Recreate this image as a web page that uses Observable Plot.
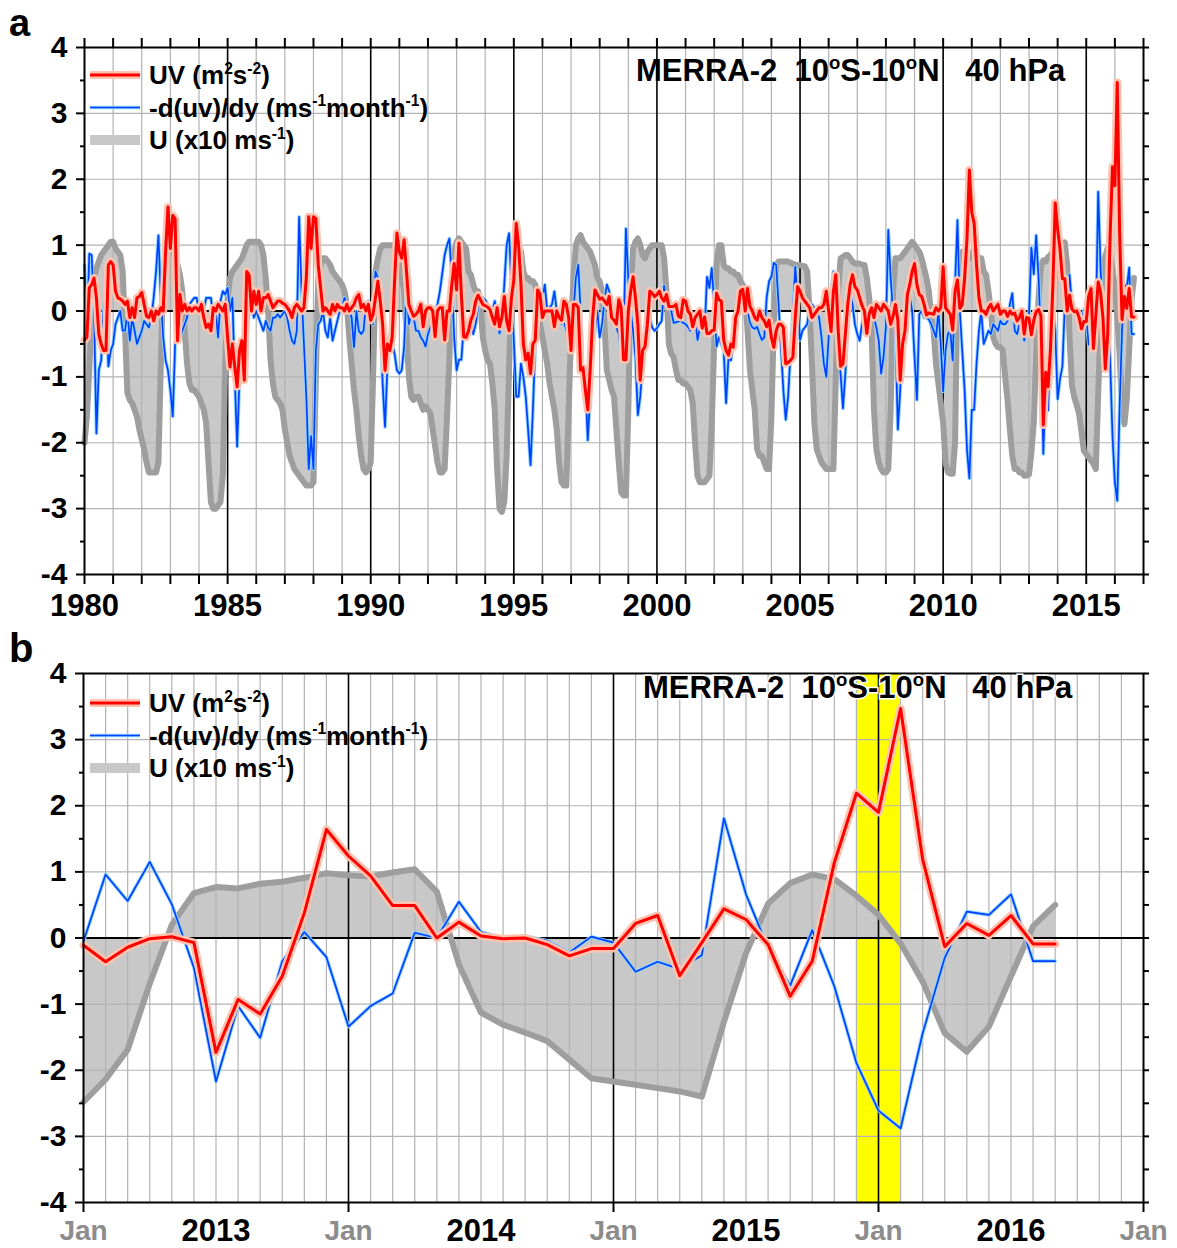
<!DOCTYPE html>
<html><head><meta charset="utf-8">
<script src="https://cdn.jsdelivr.net/npm/d3@7"></script>
<script src="https://cdn.jsdelivr.net/npm/@observablehq/plot@0.6"></script>
<style>
html,body{margin:0;padding:0;background:#fff;}
#wrap{position:relative;width:1177px;height:1248px;overflow:hidden;}
#wrap svg{display:block;}
</style></head><body><div id="wrap"></div>
<script>
// ---------------- DATA ----------------
// Panel a: monthly values Jan 1980 - Dec 2012 (one row per year)
const U_1980_2012 = [
 -2.0,-1.6,-0.9,-0.1,0.5,0.65,0.75,0.85,0.9,0.95,1.0,1.05,      // 1980
 1.05,0.95,0.9,0.85,0.6,-0.3,-1.25,-1.35,-1.4,-1.5,-1.6,-1.8,   // 1981
 -1.95,-2.1,-2.3,-2.45,-2.45,-2.45,-2.45,-2.3,-0.8,0.5,0.85,1.0, // 1982
 1.0,0.95,0.8,0.7,0.55,0.3,-0.3,-0.8,-1.1,-1.2,-1.2,-1.25,      // 1983
 -1.3,-1.4,-1.5,-1.7,-2.3,-2.9,-3.0,-3.0,-2.95,-2.9,-2.5,-0.8,  // 1984
 0.2,0.5,0.6,0.65,0.7,0.75,0.8,0.9,1.0,1.05,1.05,1.05,          // 1985
 1.05,1.05,1.0,0.85,0.5,0.0,-0.75,-1.1,-1.3,-1.35,-1.4,-1.5,    // 1986
 -1.8,-2.0,-2.2,-2.3,-2.4,-2.45,-2.5,-2.55,-2.6,-2.65,-2.65,-2.65, // 1987
 -2.6,-1.0,0.5,0.7,0.8,0.8,0.75,0.7,0.6,0.55,0.5,0.45,          // 1988
 0.4,0.3,0.1,-0.4,-0.8,-1.2,-1.5,-1.9,-2.2,-2.4,-2.45,-2.4,     // 1989
 -2.3,-1.0,0.6,0.8,0.95,1.0,1.0,1.0,1.0,1.0,0.98,0.9,           // 1990
 0.7,0.5,0.3,-0.3,-1.0,-1.3,-1.35,-1.3,-1.3,-1.4,-1.5,-1.45,    // 1991
 -1.5,-1.55,-1.8,-2.05,-2.3,-2.45,-2.45,-2.4,-1.6,-0.7,0.4,0.9, // 1992
 1.05,1.1,1.05,1.0,0.95,0.6,0.55,0.4,0.3,0.3,0.1,-0.4,          // 1993
 -0.6,-0.75,-0.8,-1.1,-1.5,-2.4,-3.0,-3.05,-2.9,-2.2,-0.9,0.3,  // 1994
 0.6,0.95,1.0,0.9,0.6,0.5,0.5,0.45,0.45,0.4,0.2,-0.2,           // 1995
 -0.4,-0.6,-0.8,-1.1,-1.3,-1.5,-1.8,-2.3,-2.6,-2.65,-2.65,-1.5, // 1996
 -0.3,0.5,1.0,1.1,1.15,1.05,1.0,0.95,0.9,0.8,0.7,0.5,           // 1997
 0.45,0.3,-0.2,-0.9,-1.05,-1.2,-1.3,-1.8,-2.3,-2.75,-2.8,-2.8,  // 1998
 -1.5,0.3,0.95,1.05,1.1,1.0,0.85,0.8,0.9,0.95,1.0,1.0,          // 1999
 1.0,1.0,1.0,0.8,0.3,-0.5,-0.65,-0.7,-0.9,-1.05,-1.05,-1.1,     // 2000
 -1.1,-1.15,-1.2,-1.4,-2.0,-2.5,-2.6,-2.6,-2.6,-2.55,-2.5,-1.7, // 2001
 -0.5,0.7,1.0,1.0,0.7,0.65,0.65,0.6,0.6,0.55,0.55,0.45,         // 2002
 0.4,0.2,-0.3,-0.9,-1.2,-1.5,-2.1,-2.2,-2.2,-2.3,-2.4,-2.4,     // 2003
 -1.6,-0.2,0.7,0.75,0.75,0.75,0.75,0.75,0.73,0.72,0.7,0.7,      // 2004
 0.7,0.68,0.68,0.6,0.0,-0.8,-1.7,-2.1,-2.2,-2.3,-2.35,-2.4,     // 2005
 -2.4,-2.4,-2.4,-1.0,0.3,0.8,0.82,0.85,0.85,0.8,0.75,0.72,      // 2006
 0.72,0.72,0.7,0.7,0.5,0.2,-0.3,-1.5,-2.1,-2.3,-2.4,-2.45,      // 2007
 -2.45,-2.4,-1.5,0.3,0.8,0.8,0.8,0.85,0.9,0.95,1.0,1.05,        // 2008
 1.0,0.95,0.9,0.8,0.65,0.5,0.3,-0.1,-0.3,-0.8,-1.1,-1.4,        // 2009
 -1.7,-2.3,-2.45,-2.47,-2.47,-2.0,0.4,0.85,0.9,0.9,0.85,0.8,    // 2010
 0.9,0.9,0.85,0.8,0.8,0.6,0.55,0.3,0.0,-0.4,-0.5,-0.55,         // 2011
 -0.55,-0.6,-1.0,-1.35,-1.8,-2.2,-2.4,-2.4,-2.45,-2.45,-2.5,-2.5 // 2012
];
const UV_1980_2012 = [
 -0.44,-0.4,0.35,0.4,0.5,0.2,-0.35,-0.5,-0.6,-0.6,0.7,0.75,     // 1980
 0.7,0.3,0.2,0.18,0.15,0.1,0.15,-0.1,0.05,-0.1,0.2,0.22,        // 1981
 0.28,0.1,-0.08,-0.1,0.0,-0.15,0.0,-0.05,0.05,0.0,0.9,1.58,     // 1982
 0.95,1.45,1.4,-0.45,0.25,0.0,0.1,0.0,0.05,0.0,0.05,0.05,       // 1983
 0.0,0.1,-0.1,-0.25,-0.2,-0.3,0.05,0.0,0.1,0.05,0.0,0.1,        // 1984
 -0.4,-0.85,-0.5,-0.85,-1.15,-0.6,-0.45,-1.05,0.6,0.55,0.0,0.3, // 1985
 0.1,0.3,0.0,0.2,0.2,0.25,0.15,0.05,0.1,0.15,0.15,0.12,         // 1986
 0.1,0.05,0.0,-0.1,0.05,0.1,0.05,0.0,0.05,0.5,1.43,0.95,        // 1987
 1.43,1.4,0.7,0.35,0.0,0.05,0.0,-0.05,0.1,0.0,0.1,0.05,         // 1988
 0.05,0.0,0.1,0.0,0.05,0.1,0.2,0.25,0.05,0.1,0.0,0.1,           // 1989
 -0.14,-0.05,0.2,0.45,0.15,-0.2,-0.9,-0.5,-0.6,-0.4,0.45,1.18,  // 1990
 0.9,0.8,1.08,0.6,0.1,0.0,-0.08,-0.05,0.0,0.1,-0.24,0.0,        // 1991
 0.05,0.05,0.0,-0.39,0.0,0.05,0.05,-0.44,0.0,0.0,0.4,0.72,      // 1992
 0.32,1.03,0.25,-0.39,-0.4,-0.3,-0.14,-0.05,0.15,0.24,0.17,0.1, // 1993
 0.08,0.06,0.02,-0.1,-0.2,0.05,-0.24,-0.1,0.22,-0.15,-0.3,0.2,  // 1994
 0.47,1.33,1.0,0.4,-0.5,-0.74,-0.64,-0.95,-0.5,-0.44,0.32,0.25, // 1995
 -0.1,0.0,0.0,0.0,0.0,-0.24,0.0,-0.1,-0.14,0.15,0.1,-0.1,       // 1996
 -0.6,0.1,0.1,0.05,-0.9,-0.86,-1.2,-1.5,-0.9,-0.14,0.32,0.25,   // 1997
 0.18,0.2,0.15,0.1,0.22,-0.1,-0.14,-0.2,0.17,0.05,-0.74,-0.74,  // 1998
 0.0,0.3,0.52,0.2,-0.2,-1.05,-0.6,-0.54,-0.2,0.3,0.27,0.22,     // 1999
 0.25,0.3,0.2,0.15,0.25,0.07,0.07,0.07,0.1,-0.08,-0.1,0.17,     // 2000
 0.15,0.0,-0.05,-0.24,-0.1,-0.05,0.0,-0.26,-0.09,-0.34,-0.34,-0.3, // 2001
 -0.29,0.27,0.17,0.15,-0.44,-0.6,-0.67,-0.5,-0.55,-0.1,0.0,0.3, // 2002
 0.33,0.0,0.34,0.07,0.0,-0.1,-0.14,0.0,-0.1,-0.15,-0.24,-0.14,  // 2003
 -0.4,-0.55,-0.3,-0.2,-0.2,-0.25,-0.8,-0.78,-0.75,-0.7,-0.1,0.37, // 2004
 0.3,0.2,0.15,0.1,0.05,-0.1,-0.05,0.0,0.05,0.05,0.1,0.3,        // 2005
 0.0,-0.31,0.3,0.55,-0.3,-0.84,-0.8,-0.35,0.1,0.4,0.55,0.37,    // 2006
 0.32,0.2,0.08,0.0,-0.34,-0.04,0.05,-0.1,0.1,0.05,0.0,0.1,      // 2007
 0.05,0.0,-0.2,-0.08,0.1,-0.14,-1.05,-0.5,-0.3,0.25,0.4,0.6,    // 2008
 0.72,0.4,0.25,0.22,0.1,-0.06,-0.03,-0.04,-0.05,0.05,0.0,0.05,  // 2009
 0.67,0.05,0.0,-0.05,-0.29,0.3,0.47,0.04,0.1,0.5,1.1,2.14,      // 2010
 1.5,1.33,0.7,0.2,0.0,0.0,-0.05,0.05,0.1,0.0,0.05,0.1,          // 2011
 -0.05,0.0,0.0,-0.08,0.0,-0.05,-0.03,-0.15,-0.1,0.0,-0.35,-0.1  // 2012
];
const D_1980_2012 = [
 0.7,-0.4,0.87,0.85,0.0,-1.86,-0.9,-0.75,0.0,0.3,-0.84,-0.6,    // 1980
 -0.5,-0.2,-0.1,0.0,-0.3,-0.3,0.0,-0.45,-0.1,-0.3,-0.5,-0.4,    // 1981
 -0.3,-0.15,-0.2,-0.25,-0.1,0.2,0.6,1.15,0.2,-0.4,-0.75,-0.9,   // 1982
 -1.2,-1.6,-0.5,-0.35,-0.4,-0.3,-0.2,-0.1,0.1,0.15,0.2,0.2,     // 1983
 0.0,0.1,0.0,0.2,0.2,0.2,-0.1,0.0,-0.4,0.15,0.3,0.25,           // 1984
 0.35,0.0,0.2,-1.0,-2.06,-1.0,-0.65,-0.5,-0.4,0.0,0.1,-0.1,     // 1985
 0.0,-0.1,-0.2,-0.3,-0.15,-0.25,-0.3,-0.1,-0.1,-0.05,-0.1,-0.05, // 1986
 0.0,-0.1,-0.3,-0.45,-0.5,-0.3,1.43,0.3,-0.5,-1.3,-2.4,-1.9,    // 1987
 -2.4,-0.6,-0.2,-0.15,0.0,-0.3,-0.4,-0.1,-0.45,-0.3,-0.15,0.0,  // 1988
 0.05,0.2,0.1,0.0,-0.1,-0.55,0.0,-0.3,-0.35,-0.3,0.1,0.15,      // 1989
 0.0,-0.2,0.6,0.5,0.0,-1.1,-1.76,-0.84,-0.35,-0.5,-0.65,-0.9,   // 1990
 -0.95,-0.9,-0.55,0.35,-0.2,-0.05,-0.1,-0.3,-0.3,-0.4,-0.45,-0.54, // 1991
 -0.35,-0.25,-0.15,0.0,0.1,0.3,0.57,0.85,1.0,1.1,0.5,-0.4,      // 1992
 -0.9,-0.74,-0.74,-0.25,-0.2,-0.2,-0.2,-0.35,-0.2,0.05,0.15,0.2, // 1993
 0.17,0.1,0.05,0.0,0.15,-0.1,-0.34,-0.2,0.4,1.0,1.18,0.4,       // 1994
 -0.44,-1.3,-1.3,-0.8,-1.0,-1.3,-1.8,-2.34,-1.5,-0.5,0.0,0.1,   // 1995
 0.2,0.4,0.0,0.05,0.1,0.3,0.0,-0.15,-0.2,-0.15,-0.3,-0.4,       // 1996
 -0.4,0.0,0.5,0.7,0.0,-1.15,-1.1,-1.96,-1.3,-0.5,-0.3,0.0,      // 1997
 -0.4,-0.2,0.15,0.4,0.3,0.1,0.05,-0.25,-0.35,-0.64,-0.5,1.25,   // 1998
 0.5,0.0,-0.3,-0.7,-1.58,-1.3,-0.8,-0.4,0.0,-0.1,-0.25,-0.3,    // 1999
 -0.26,-0.2,-0.15,0.38,0.1,0.05,0.0,-0.18,-0.17,-0.16,-0.15,-0.18, // 2000
 -0.2,-0.24,-0.3,-0.15,-0.1,-0.44,-0.25,-0.28,-0.3,0.52,0.35,0.65, // 2001
 0.1,-0.54,-0.4,-0.5,-0.6,-1.4,-0.7,-0.75,-0.5,-0.3,0.25,0.3,   // 2002
 0.32,0.3,0.0,-0.18,-0.25,-0.27,-0.24,-0.35,-0.44,-0.4,0.2,0.45, // 2003
 0.52,0.73,0.7,0.1,-0.54,-1.2,-1.65,-1.3,-0.65,0.0,0.67,0.17,   // 2004
 -0.44,-0.3,-0.25,-0.2,0.05,0.1,0.05,0.0,-0.1,-0.4,-0.8,-1.0,   // 2005
 -0.4,0.25,0.6,0.0,-0.6,-0.95,-1.48,-0.95,-0.14,0.3,0.1,-0.2,   // 2006
 -0.35,-0.45,-0.2,0.0,0.0,-0.15,0.0,-0.1,-0.25,-0.45,-0.95,-0.7, // 2007
 -0.24,1.23,0.5,0.0,-0.3,-1.8,-1.2,-0.3,0.0,0.1,0.22,0.0,       // 2008
 -0.69,-1.35,-0.05,0.0,-0.1,-0.1,-0.13,-0.2,-0.3,-0.4,0.0,-0.5, // 2009
 -1.22,-0.6,-0.35,-0.3,-0.75,0.4,1.38,0.0,-0.6,-1.2,-2.1,-2.54, // 2010
 -1.5,-1.5,-0.8,-0.3,0.0,-0.5,-0.4,-0.3,-0.35,-0.2,-0.25,-0.3,  // 2011
 -0.15,-0.2,-0.2,-0.15,0.1,0.27,-0.3,-0.35,-0.2,-0.15,-0.45,-0.25 // 2012
];
// Panel b (and end of panel a): monthly values Jan 2013 - Sep 2016
const U_2013_2016 = [
 -2.48,-2.14,-1.69,-0.69,0.2,0.68,0.77,0.75,0.82,0.85,0.91,0.98,
 0.95,0.93,0.99,1.04,0.7,-0.4,-1.13,-1.31,-1.43,-1.56,-1.84,-2.12,
 -2.17,-2.22,-2.27,-2.32,-2.4,-1.27,-0.23,0.52,0.83,0.96,0.89,0.64,
 0.35,-0.08,-0.66,-1.44,-1.72,-1.34,-0.58,0.18,0.5
];
const UV_2013_2016 = [
 -0.11,-0.36,-0.14,-0.01,0.02,-0.07,-1.73,-0.93,-1.15,-0.58,0.38,1.64,
 1.24,0.94,0.49,0.49,0.0,0.24,0.03,-0.01,0.0,-0.1,-0.27,-0.16,
 -0.16,0.22,0.34,-0.57,-0.07,0.44,0.28,-0.1,-0.88,-0.35,1.14,2.19,
 1.9,3.47,1.19,-0.13,0.22,0.04,0.34,-0.09,-0.09
];
const D_2013_2016 = [
 -0.05,0.96,0.56,1.15,0.51,-0.45,-2.17,-1.03,-1.51,-0.35,0.09,-0.29,
 -1.34,-1.03,-0.84,0.08,0.0,0.55,0.09,0.0,0.03,-0.04,-0.22,0.02,
 -0.07,-0.51,-0.36,-0.47,-0.26,1.81,0.66,-0.15,-0.72,0.12,-0.73,-1.89,
 -2.61,-2.88,-1.44,-0.3,0.4,0.35,0.66,-0.35,-0.35
];
const yTicks = [-4,-3,-2,-1,0,1,2,3,4];
const yearsA = d3.range(1980, 2018);           // 1980..2017
const labelYearsA = [1980,1985,1990,1995,2000,2005,2010,2015];
const janB = [2013,2014,2015,2016,2017];
const yearLabelsB = ["2013","2014","2015","2016"];
const highlightB = [{from: 2015 + 11/12, to: 2016 + 1/12}];   // Dec 2015 - Feb 2016
const titleParts = [["MERRA-2  10",0],["o",1],["S-10",0],["o",1],["N   40 hPa",0]];
const legendItems = [
  {key:"UV", parts:[["UV (m",0],["2",1],["s",0],["-2",1],[")",0]]},
  {key:"D",  parts:[["-d(uv)/dy (ms",0],["-1",1],["month",0],["-1",1],[")",0]]},
  {key:"U",  parts:[["U (x10 ms",0],["-1",1],[")",0]]}
];

// ---------------- BUILD ----------------
const FONT = '"Liberation Sans", Arial, Helvetica, sans-serif';
const COL = {fill:"#c8c8c8", uline:"#9e9e9e", grid:"#b2b2b2", red:"#ff0000", redHalo:"#ffc3b0", blue:"#0040ff", blueHalo:"#8fd3ff"};

const UVall = UV_1980_2012.concat(UV_2013_2016);
const Dall = D_1980_2012.concat(D_2013_2016);
const dataA = U_1980_2012.concat(U_2013_2016).map((u, i) => ({t: 1980 + i/12, U: u, UV: UVall[i], D: Dall[i]}));
const dataB = U_2013_2016.map((u, i) => ({t: 2013 + i/12, U: u, UV: UV_2013_2016[i], D: D_2013_2016[i]}));
const halfTicks = d3.range(-3.5, 4, 1);
const allHalf = d3.range(-4, 4.01, 0.5);

function seriesMarks(data) {
  return [
    Plot.lineY(data, {x:"t", y:"U", stroke: COL.uline, strokeWidth: 6, strokeLinejoin:"round"}),
    Plot.lineY(data, {x:"t", y:"D", stroke: COL.blueHalo, strokeWidth: 3.6, strokeLinejoin:"round"}),
    Plot.lineY(data, {x:"t", y:"D", stroke: COL.blue, strokeWidth: 1.7, strokeLinejoin:"round"}),
    Plot.lineY(data, {x:"t", y:"UV", stroke: COL.redHalo, strokeWidth: 8, strokeLinejoin:"round"}),
    Plot.lineY(data, {x:"t", y:"UV", stroke: COL.red, strokeWidth: 3, strokeLinejoin:"round"})
  ];
}
function yAxes() {
  return [
    Plot.axisY({ticks: yTicks, tickSize: 8, tickPadding: 9, strokeWidth: 2, fontSize: 30, fontWeight: "bold", tickFormat: d => String(d), label: null}),
    Plot.axisY({ticks: halfTicks, tickSize: 4, strokeWidth: 2, tickFormat: () => "", label: null}),
    Plot.axisY({anchor: "right", ticks: allHalf, tickSize: 5, strokeWidth: 2, tickFormat: () => "", label: null})
  ];
}

function addRich(sel, x, y, parts, size, extra) {
  const t = sel.append("text").attr("x", x).attr("y", y)
    .attr("font-family", FONT).attr("font-weight", "bold").attr("font-size", size)
    .attr("text-anchor", "start").attr("fill", "black").style("white-space", "pre");
  if (extra) extra(t);
  let cur = 0;
  for (const [s, sup] of parts) {
    const target = sup ? -size * 0.4 : 0;
    const ts = t.append("tspan").text(s).attr("dy", target - cur);
    if (sup) ts.attr("font-size", size * 0.6);
    cur = target;
  }
  return t;
}
function addLegend(svg, y0) {
  const g = svg.append("g");
  const rows = [y0, y0 + 32.5, y0 + 65];
  legendItems.forEach((it, i) => {
    const y = rows[i];
    if (it.key === "UV") {
      g.append("line").attr("x1", 90).attr("x2", 140).attr("y1", y).attr("y2", y).attr("stroke", COL.redHalo).attr("stroke-width", 8);
      g.append("line").attr("x1", 90).attr("x2", 140).attr("y1", y).attr("y2", y).attr("stroke", COL.red).attr("stroke-width", 3);
    } else if (it.key === "D") {
      g.append("line").attr("x1", 90).attr("x2", 140).attr("y1", y).attr("y2", y).attr("stroke", COL.blueHalo).attr("stroke-width", 3.6);
      g.append("line").attr("x1", 90).attr("x2", 140).attr("y1", y).attr("y2", y).attr("stroke", COL.blue).attr("stroke-width", 1.7);
    } else {
      g.append("line").attr("x1", 90).attr("x2", 140).attr("y1", y).attr("y2", y).attr("stroke", COL.fill).attr("stroke-width", 10);
    }
    addRich(g, 149, y + 9, it.parts, 26);
  });
}

// Panel a
const chartA = Plot.plot({
  width: 1177, height: 625,
  marginTop: 47, marginBottom: 51, marginLeft: 84, marginRight: 34,
  x: {domain: [1980, 2017], label: null},
  y: {domain: [-4, 4], label: null},
  style: {fontFamily: FONT, background: "white", overflow: "visible"},
  marks: [
    Plot.areaY(dataA, {x: "t", y: "U", fill: COL.fill}),
    Plot.ruleX(yearsA.filter(y => y % 5 !== 0 && y < 2017), {stroke: COL.grid, strokeWidth: 1.2}),
    Plot.ruleY(yTicks.filter(v => v !== 0 && Math.abs(v) < 4), {stroke: COL.grid, strokeWidth: 1.2}),
    Plot.ruleX(labelYearsA.filter(y => y > 1980), {stroke: "black", strokeWidth: 1.6}),
    Plot.ruleY([0], {stroke: "black", strokeWidth: 2}),
    ...seriesMarks(dataA),
    Plot.frame({stroke: "black", strokeWidth: 2}),
    ...yAxes(),
    Plot.axisX({anchor: "top", ticks: yearsA, tickSize: 10, strokeWidth: 2, tickFormat: () => "", label: null}),
    Plot.axisX({anchor: "bottom", ticks: yearsA, tickSize: 10, tickPadding: 9, strokeWidth: 2, fontSize: 31, fontWeight: "bold",
      tickFormat: d => labelYearsA.includes(d) ? String(d) : "", label: null})
  ]
});

// Panel b
const chartB = Plot.plot({
  width: 1177, height: 623,
  marginTop: 48, marginBottom: 46, marginLeft: 83, marginRight: 34,
  x: {domain: [2013, 2017], label: null},
  y: {domain: [-4, 4], label: null},
  style: {fontFamily: FONT, background: "white", overflow: "visible"},
  marks: [
    Plot.rect(highlightB, {x1: "from", x2: "to", fill: "#ffff00"}),
    Plot.areaY(dataB, {x: "t", y: "U", fill: COL.fill}),
    Plot.ruleX(d3.range(1, 48).filter(m => m % 12 !== 0).map(m => 2013 + m/12), {stroke: COL.grid, strokeWidth: 1.2}),
    Plot.ruleY(yTicks.filter(v => v !== 0 && Math.abs(v) < 4), {stroke: COL.grid, strokeWidth: 1.2}),
    Plot.ruleX(janB.slice(1, 4), {stroke: "black", strokeWidth: 1.6}),
    Plot.ruleY([0], {stroke: "black", strokeWidth: 2}),
    ...seriesMarks(dataB),
    Plot.frame({stroke: "black", strokeWidth: 2}),
    ...yAxes(),
    Plot.axisX({anchor: "bottom", ticks: janB, tickSize: 10, tickPadding: 8, strokeWidth: 2, fontSize: 28, fontWeight: "bold",
      fill: "#8c8c8c", tickFormat: () => "Jan", label: null}),
    Plot.axisX({anchor: "bottom", ticks: janB.slice(0, 4).map(y => y + 0.5), tickSize: 0, tickPadding: 16, fontSize: 31, fontWeight: "bold",
      tickFormat: (d, i) => yearLabelsB[i], label: null})
  ]
});

const wrap = document.getElementById("wrap");
wrap.appendChild(chartA);
wrap.appendChild(chartB);

const sA = d3.select(chartA);
const sB = d3.select(chartB);
sA.append("text").attr("x", 9).attr("y", 36).attr("text-anchor", "start").attr("font-family", FONT).attr("font-weight", "bold").attr("font-size", 38).text("a");
sB.append("text").attr("x", 9).attr("y", 37).attr("text-anchor", "start").attr("font-family", FONT).attr("font-weight", "bold").attr("font-size", 40).text("b");
addLegend(sA, 75);
addLegend(sB, 78);
addRich(sA, 636, 81, titleParts, 31);
addRich(sB, 643, 73, titleParts, 31, t => t.attr("stroke", "white").attr("stroke-width", 3).attr("paint-order", "stroke"));
</script></body></html>
